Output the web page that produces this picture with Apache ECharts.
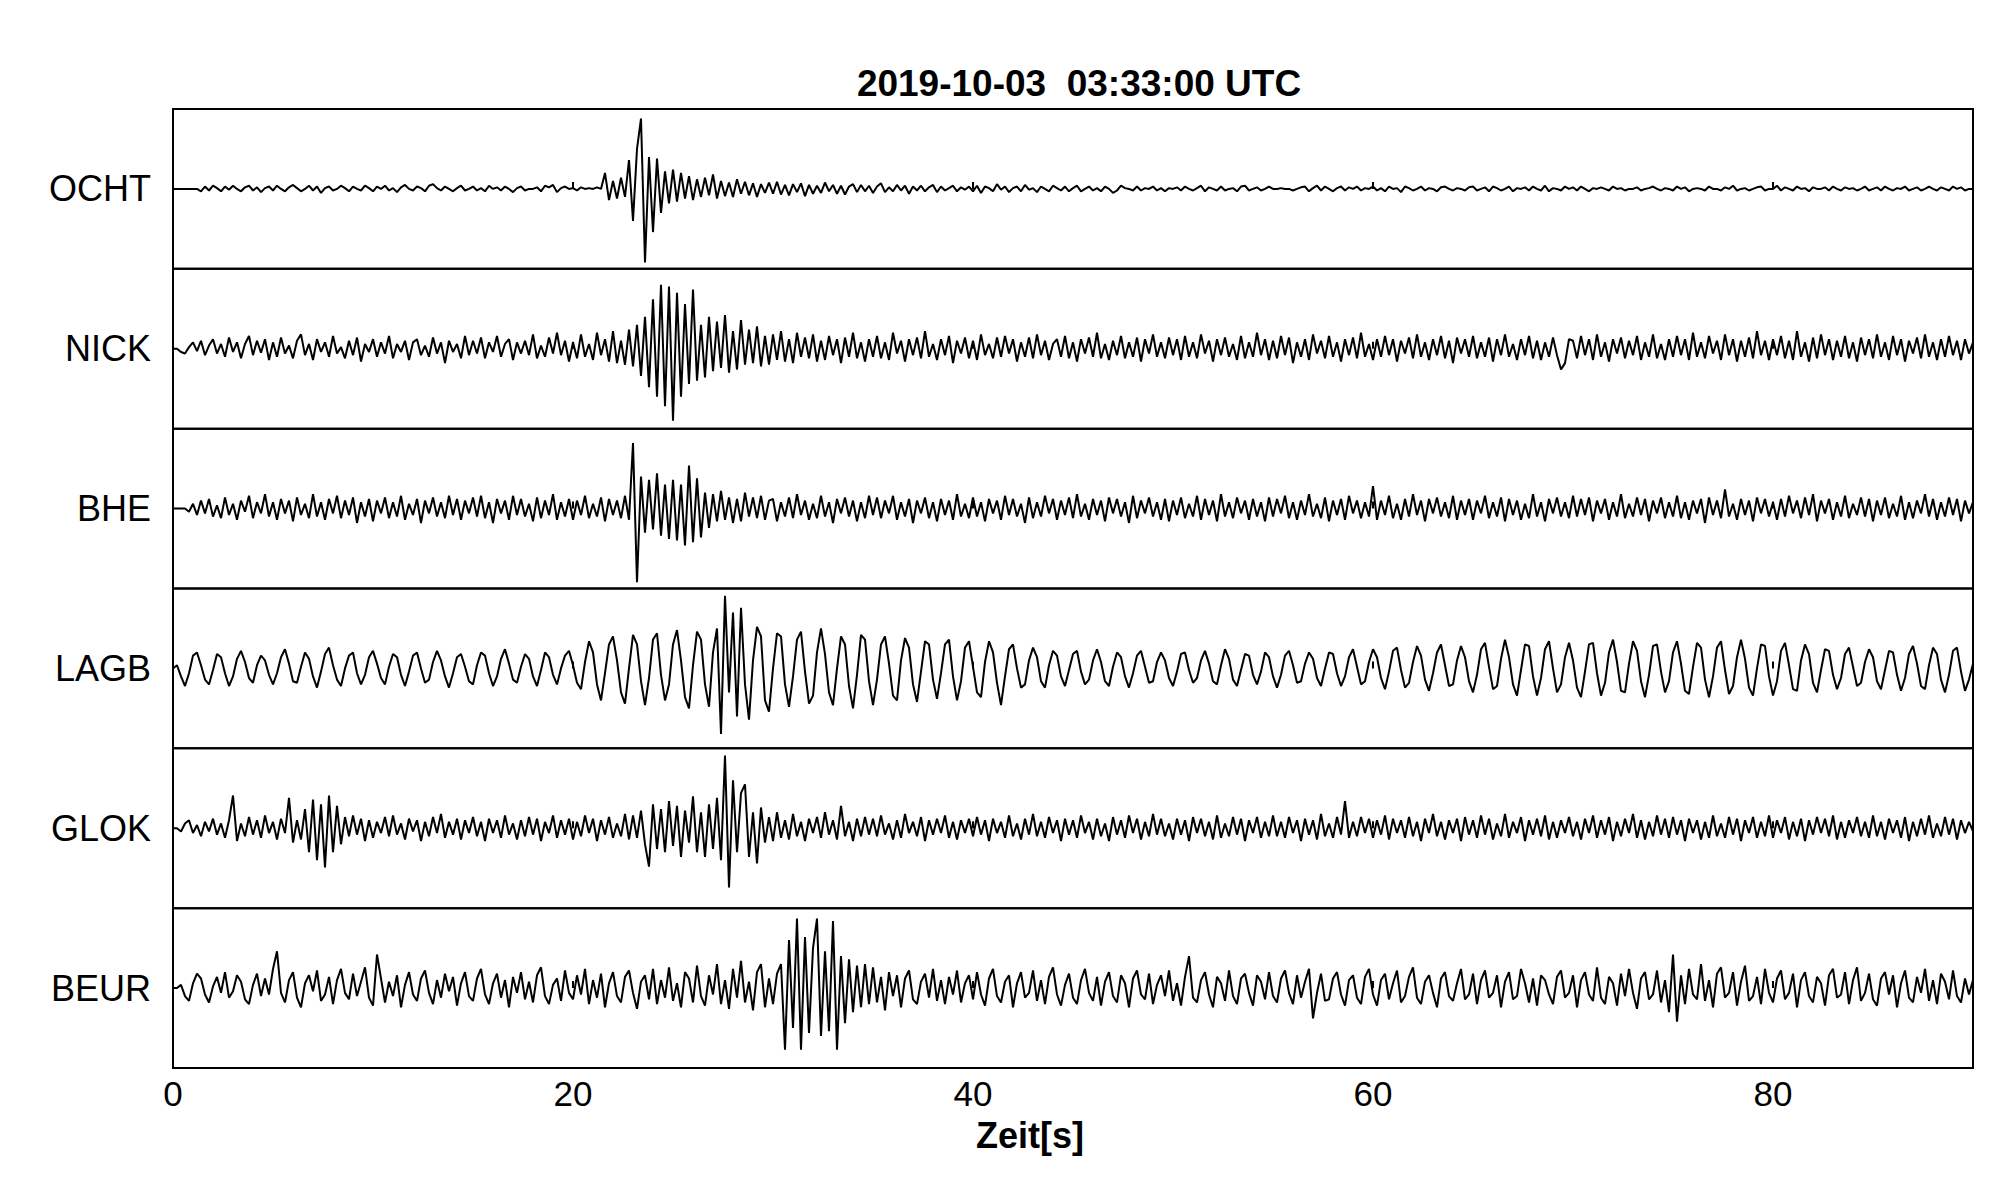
<!DOCTYPE html>
<html><head><meta charset="utf-8">
<script src="https://cdn.jsdelivr.net/npm/echarts@6/dist/echarts.min.js"></script>
<style>html,body{margin:0;padding:0;background:#fff}#c{width:2005px;height:1202px}</style>
</head><body><div id="c"></div>
<script>
const stations = ['OCHT','NICK','BHE','LAGB','GLOK','BEUR'];
const titleText = '2019-10-03  03:33:00 UTC';
const xLabel = 'Zeit[s]';
const xTicks = [0,20,40,60,80];
const xMax = 90;
const dt = 0.2; // seconds between read-off samples

const OCHT = [
0,0,0,0,0,0,0,-3,3,-2,4,1,-3,3,-1,4,0,-3,2,4,-2,2,-4,1,3,
-2,4,0,-3,2,5,1,-3,0,4,-2,3,-5,1,3,-2,0,4,1,-3,3,0,-2,4,1,
-3,3,0,4,-2,1,-4,2,5,0,-2,3,1,-3,4,6,1,-2,3,0,-3,1,4,-2,0,
3,-2,1,-3,4,0,2,-2,3,0,-4,1,3,-2,0,0,2,-3,4,2,5,-4,1,3,0,
1,-2,2,0,1,0,2,0,20,-14,10,-12,14,-10,36,-40,50,88,-92,40,-54,38,-30,22,-18,
24,-16,20,-12,16,-14,12,-10,14,-8,18,-12,10,-9,8,-10,12,-6,9,-8,7,-10,6,-5,8,
-6,9,-7,5,-8,6,-4,7,-9,5,-6,4,-5,8,-3,5,-6,4,-7,3,6,-4,5,-3,4,
-5,3,7,-4,2,-3,5,-2,4,-6,3,-2,4,-3,2,5,-4,3,-2,1,4,-3,2,-1,3,
-3,4,-5,3,1,-3,6,-1,3,-4,1,3,-3,5,-1,1,-4,3,0,-3,4,1,-2,3,-3,
1,4,-3,0,3,-2,1,-3,3,0,-5,-2,4,1,0,-2,3,-2,1,0,3,-2,1,-3,1,
0,2,-2,3,0,-2,1,4,-3,2,0,-2,3,-2,0,1,-3,3,4,-2,0,2,-2,0,3,
0,0,1,0,0,-2,0,2,3,-3,1,4,-2,3,0,-3,1,3,-2,2,0,3,-2,1,0,
3,-2,1,-3,3,0,1,-4,3,1,-2,0,3,-2,1,0,-3,2,3,0,-2,1,0,-2,2,
3,-2,0,2,-3,3,1,-2,0,3,-3,1,0,2,-2,3,0,-2,4,-3,1,0,-2,3,0,
2,-2,3,0,-3,1,0,2,0,-2,3,0,1,-2,0,0,2,-2,0,1,3,0,-2,1,0,
-2,3,0,2,-3,0,1,0,-2,3,0,0,-2,2,0,4,-2,0,1,-2,0,2,3,-2,0,
0,4,-2,2,0,-2,3,0,1,-3,2,0,0,2,-2,3,0,-2,2,0,1,-2,0,3,-2,
0,2,-2,3,0,-2,1,0,3,-2,0,2,-2,0,3,0,-2,2,0,-2,3,0,2,-2,0,
0];

const NICK = [
0,0,-4,-6,2,8,-3,10,-8,4,12,-6,6,-10,14,-4,8,-12,6,16,-8,10,-5,12,-14,
8,-10,14,-6,4,-12,10,18,-8,6,-14,12,-4,8,-10,16,-6,2,-12,10,-8,14,-16,6,-4,
12,-10,8,-6,16,-12,6,-4,10,-14,8,12,-8,4,-10,14,-6,8,-18,10,-4,6,-12,16,-8,
10,-6,14,-12,8,-4,16,-10,6,12,-14,8,-6,10,-8,18,-12,4,-10,14,-6,20,-8,10,-16,
8,-12,18,-10,6,-14,20,-8,12,-16,22,-18,10,-20,24,-22,30,-34,40,-48,62,-60,80,-72,78,
-90,70,-60,56,-44,74,-40,30,-36,40,-28,34,-24,42,-30,22,-26,36,-20,24,-18,28,-22,16,-20,
18,-14,22,-16,12,-18,20,-10,14,-12,18,-16,10,-14,16,-8,12,-18,14,-10,20,-12,8,-16,12,
-10,16,-12,8,-14,20,-6,10,-16,12,-8,14,-12,22,-10,6,-14,12,-8,16,-18,10,-6,14,-12,
10,-14,18,-8,6,-12,14,-10,16,-6,12,-16,8,-10,14,-12,18,-8,10,-14,6,12,-10,16,-12,
8,-16,12,-6,14,-10,20,-12,6,-14,10,-8,16,-12,8,-10,14,-16,12,-6,18,-10,8,-12,14,
-8,12,-14,16,-10,8,-12,18,-6,10,-16,12,-8,14,-10,6,-14,16,-12,8,-10,20,-8,12,-14,
10,-12,16,-8,14,-18,8,-10,12,-14,18,-6,10,-12,16,-10,8,-16,12,-8,14,-12,20,-10,6,
-14,12,-10,16,-8,12,-16,10,-6,14,-12,18,-10,8,-14,12,-8,16,-12,10,-18,14,-6,12,-10,
16,-12,8,-10,14,-16,12,-8,18,-10,6,-14,12,-8,16,-12,10,-14,8,-10,14,-8,-26,-18,12,
10,-12,16,-8,12,-14,18,-10,8,-16,12,-6,14,-12,10,-8,16,-14,8,-10,18,-12,6,-14,12,
-10,16,-8,12,-14,20,-10,8,-12,16,-6,10,-14,18,-8,12,-16,10,-10,14,-12,22,-8,10,-14,
12,-8,16,-12,10,-14,22,-10,8,-16,14,-12,18,-8,12,-14,10,-10,16,-12,8,-16,14,-8,12,
-12,18,-10,8,-14,16,-8,12,-16,10,-6,14,-12,18,-10,8,-14,12,-10,16,-8,10,-14,12,-6,
8];

const BHE = [
0,0,0,0,-4,6,-8,10,-6,12,-10,4,-12,14,-8,6,-14,10,-4,16,-12,8,-6,18,-10,
8,-14,12,-6,10,-16,14,-8,6,-12,18,-10,8,-14,12,-6,16,-12,10,-8,14,-18,8,-10,12,
-16,10,-6,14,-12,8,-10,16,-14,6,-8,12,-18,10,-6,14,-10,8,-12,16,-8,12,-14,10,-6,
14,-10,16,-12,8,-18,12,-6,10,-14,16,-8,12,-10,6,-16,14,-12,10,-8,18,-14,8,-10,12,
-14,10,-8,16,-12,6,-10,14,-16,12,-8,10,-12,16,-14,82,-92,40,-30,36,-26,44,-34,30,-38,
36,-40,30,-46,54,-42,38,-36,20,-24,18,-16,22,-14,14,-18,12,-16,20,-10,14,-12,16,-14,10,
12,-16,8,-10,14,-12,18,-8,10,-14,6,-12,16,-10,8,-18,12,-6,14,-10,10,-16,8,-12,16,
-8,14,-12,10,-6,16,-14,8,-10,12,-18,10,-6,14,-12,8,-16,12,-8,10,-14,18,-10,6,-12,
14,-10,8,-16,12,-6,10,-14,16,-8,12,-10,6,-18,14,-12,8,-10,16,-6,12,-14,10,-8,14,
-12,18,-10,6,-14,12,-8,10,-16,14,-6,12,-10,8,-18,16,-12,10,-6,14,-10,8,-14,12,-16,
10,-8,14,-12,6,-10,16,-14,12,-8,10,-16,18,-10,8,-12,14,-6,10,-14,12,-10,8,-16,14,
-10,12,-6,16,-12,8,-14,10,-8,18,-10,6,-12,14,-16,10,-8,12,-14,16,-6,10,-12,8,-10,
28,-14,10,-8,16,-12,6,-14,12,-10,18,-8,10,-16,12,-6,14,-10,8,-12,16,-14,10,-8,12,
-14,10,-6,16,-12,8,-10,14,-16,12,-8,10,-14,6,-12,18,-10,8,-16,12,-6,14,-10,8,-12,
16,-10,12,-8,14,-16,10,-6,12,-14,8,-10,18,-12,6,-10,14,-8,12,-16,10,-6,14,-12,8,
-10,16,-12,8,-14,10,-6,12,-18,14,-8,10,-12,24,-10,6,-14,12,-8,10,-16,14,-6,12,-10,
8,-14,12,-10,16,-6,10,-12,14,-8,18,-16,10,-6,12,-14,8,-10,16,-12,6,-8,14,-10,12,
-16,10,-8,14,-12,6,-10,16,-14,8,-12,10,-6,18,-10,12,-14,8,-10,14,-8,12,-16,10,-6,
8];

const LAGB = [
0,4,-10,-22,-6,16,20,4,-14,-20,-2,18,14,-6,-22,-10,12,22,8,-12,-18,4,16,10,-8,
-20,-6,14,24,6,-16,-18,2,20,12,-10,-24,-4,18,26,4,-14,-22,0,16,20,-6,-20,-8,14,
22,6,-12,-20,2,18,14,-8,-22,-4,16,20,0,-18,-14,8,22,10,-10,-24,-6,14,18,2,-16,
-20,4,20,16,-6,-22,-10,12,24,6,-14,-18,2,18,12,-10,-22,-2,20,14,-8,-20,0,16,22,
4,-18,-26,8,34,20,-20,-40,-6,30,40,10,-30,-44,0,42,30,-16,-46,-12,36,44,-8,-40,-20,
30,48,10,-36,-50,4,46,36,-20,-48,20,50,-82,91,-30,70,-60,76,-20,-64,10,52,40,-40,-54,
0,44,40,-20,-48,-10,36,46,-4,-44,-34,20,50,18,-30,-46,0,40,30,-22,-50,-8,42,36,-16,
-46,-14,30,40,6,-34,-40,10,38,26,-20,-42,-4,34,30,-14,-38,-6,30,36,-10,-40,-16,26,34,
2,-30,-36,8,34,20,-18,-46,-10,24,30,0,-24,-20,10,26,14,-16,-24,4,22,16,-10,-22,-2,
18,22,-4,-20,-14,10,24,8,-16,-22,2,20,14,-10,-24,-6,16,22,2,-18,-16,8,20,10,-12,
-22,-4,18,20,-2,-18,-12,10,22,6,-16,-20,4,24,12,-14,-22,-2,18,16,-8,-20,-4,20,14,
-10,-24,-8,16,22,4,-18,-16,6,20,12,-12,-22,0,20,18,-6,-22,-10,14,24,2,-20,-16,8,
24,14,-12,-26,-4,22,26,-2,-24,-18,8,28,16,-14,-28,-6,20,30,4,-22,-20,10,28,14,-16,
-30,-8,24,32,2,-26,-22,12,36,14,-20,-34,-2,30,28,-10,-34,-12,24,34,0,-30,-20,14,32,
10,-24,-36,-4,30,32,-6,-34,-18,20,36,8,-28,-30,6,34,22,-16,-36,-8,28,30,-4,-30,-16,
20,34,6,-28,-32,2,32,26,-14,-36,-10,26,34,-2,-32,-22,14,36,12,-24,-34,0,30,28,-10,
-34,-16,22,32,4,-26,-28,10,30,18,-18,-30,-2,24,22,-8,-26,-12,18,26,2,-22,-18,8,24,
14,-16,-26,-2,22,20,-8,-28,-12,18,28,6,-22,-26,4,26,18,-14,-30,-8,22,26,-4,-28,-14,
6];

const GLOK = [
0,0,-4,6,10,-6,4,-10,8,-4,12,-8,6,-12,10,41,-16,6,-10,14,-8,10,-12,16,-6,
8,-14,12,-6,38,-18,10,-14,24,-30,36,-40,30,-49,41,-30,28,-20,14,-10,16,-8,12,-16,10,
-12,8,-6,14,-10,16,-8,6,-14,12,-4,10,-16,8,-10,14,-6,18,-12,8,-8,12,-14,10,-6,
14,-10,8,-16,12,-6,10,-12,16,-8,6,-14,10,-10,14,-8,12,-16,8,-6,16,-12,10,-8,12,
-14,8,-10,16,-6,12,-16,10,-8,14,-12,6,-10,18,-14,16,-12,22,-20,-48,30,-26,24,-30,34,
-22,28,-36,22,-18,40,-30,20,-36,30,-26,38,-40,91,-74,60,-30,44,55,-36,20,-44,26,-18,14,
-16,20,-12,10,-14,18,-10,8,-16,12,-6,14,-12,20,-8,10,-14,28,-10,8,-16,12,-10,14,-8,
12,-10,16,-8,6,-14,10,-12,18,-6,8,-10,14,-16,10,-8,12,-6,16,-12,8,-14,10,-6,12,
-10,14,-8,10,-16,12,-6,8,-12,16,-10,6,-14,12,-8,18,-10,8,-12,14,-6,10,-16,12,-8,
10,-12,16,-6,8,-14,12,-10,6,-16,14,-8,10,-12,16,-6,12,-14,8,-10,18,-8,12,-10,6,
-14,12,-8,10,-16,14,-6,12,-10,8,-14,16,-12,6,-10,14,-8,12,-16,10,-6,14,-12,8,-10,
16,-10,8,-12,14,-6,10,-16,12,-8,10,-14,18,-10,6,-12,14,-8,34,-12,8,-10,14,-6,12,
-12,10,-8,16,-14,12,-6,10,-12,14,-10,8,-16,12,-6,18,-10,8,-14,10,-6,12,-16,14,-8,
10,-12,16,-8,12,-14,6,-10,18,-12,8,-6,14,-16,10,-8,12,-10,16,-14,8,-12,10,-6,14,
-10,8,-14,12,-6,16,-12,10,-8,14,-16,8,-10,12,-6,18,-12,10,-14,8,-10,16,-8,12,-12,
14,-8,10,-16,12,-6,10,-14,8,-12,16,-10,6,-12,14,-8,12,-16,10,-6,14,-12,8,-10,16,
-12,10,-6,14,-14,8,-10,12,-16,10,-8,14,-6,12,-10,16,-14,8,-12,10,-6,14,-10,8,-12,
16,-10,8,-14,12,-6,10,-12,14,-16,8,-10,12,-8,16,-12,6,-10,14,-8,12,-14,10,-6,8,
-4];

const BEUR = [
0,0,4,-10,-16,6,18,12,-8,-18,2,14,-6,20,-12,-4,16,8,-14,-20,4,18,-10,12,-8,
24,46,-6,-18,10,20,-12,-24,6,16,-4,22,-16,-8,14,-20,10,24,-6,-14,18,-10,8,26,-12,
-22,42,12,-18,8,-10,16,-24,4,20,-8,-16,12,22,-6,-20,10,-12,18,-4,14,-22,6,20,-10,
-16,12,24,-8,-20,6,18,-12,10,-24,14,-6,20,-14,8,-18,16,26,-10,-20,4,12,-16,22,-6,
-14,16,-8,24,-20,10,-12,18,-24,6,20,-10,-18,14,22,-6,-26,8,16,-14,24,-20,10,-12,26,
-16,6,-24,20,12,-18,28,-10,-22,16,-8,30,-20,10,-26,24,-12,34,-18,8,-28,20,30,-24,12,
-20,18,30,-77,60,-50,87,-77,64,-56,50,87,-60,46,-54,84,-77,40,-44,36,-30,28,-24,30,-20,
26,-18,14,-28,20,-10,16,-24,12,22,-14,-20,8,18,-12,24,-16,10,-20,14,-8,22,-18,6,16,
-14,20,-8,-22,12,24,-10,-18,8,16,-24,6,20,-12,-6,22,-16,10,-20,14,26,-8,-22,4,18,
-12,-20,10,24,-6,-16,14,-22,8,20,-10,-18,16,6,-24,12,22,-8,-14,18,-20,4,16,-10,22,
-16,6,-22,14,40,-12,-18,10,20,-8,-24,14,6,-16,22,-10,-20,12,18,-6,-22,16,8,-14,20,
-10,-18,12,22,-6,-20,16,-12,8,24,-38,-6,18,-16,-14,12,20,-8,-22,10,16,-12,-20,14,24,
-8,-22,10,18,-14,6,22,-18,-10,14,26,-12,-20,8,16,-6,-24,12,20,-10,-16,6,24,-14,-8,
18,-20,10,22,-12,-6,16,-24,8,20,-14,-10,24,6,-18,12,-22,16,10,-8,-20,14,22,-12,-6,
16,-24,10,20,-8,-16,26,-12,-20,14,6,-22,18,-10,24,-6,-26,12,20,-14,-8,22,-18,10,-30,
42,-42,16,-20,24,-8,-14,30,-16,10,-24,18,26,-12,-6,20,-22,8,28,-16,-10,14,-20,24,-6,
-18,12,22,-14,-6,18,-24,10,20,-10,-18,14,6,-22,16,24,-12,-8,20,-20,10,26,-16,-6,18,
-14,-22,12,20,-8,16,-24,6,22,-12,-18,14,-6,24,-16,10,-20,18,8,-14,22,-10,-18,12,-8,
10];

const traces = [OCHT, NICK, BHE, LAGB, GLOK, BEUR];

const chart = echarts.init(document.getElementById('c'), null, {renderer: 'svg'});
const L = 173, W = 1800, T = 109, PH = 959 / 6;
const FONT = '"Liberation Sans", Arial, Helvetica, sans-serif';
const grids = [], xAxes = [], yAxes = [], series = [], graphics = [];

stations.forEach((name, i) => {
  grids.push({left: L, top: T + i * PH, width: W, height: PH, show: true,
    borderColor: '#000', borderWidth: 2, backgroundColor: 'transparent'});
  xAxes.push({type: 'value', gridIndex: i, min: xTicks[0], max: xMax, interval: xTicks[1] - xTicks[0],
    axisLine: {show: false},
    axisTick: {show: true, inside: true, length: 7, lineStyle: {color: '#000', width: 2}},
    axisLabel: {show: i === stations.length - 1, showMaxLabel: false, color: '#000',
      fontSize: 35, fontFamily: FONT, margin: 8},
    splitLine: {show: false}});
  yAxes.push({type: 'value', gridIndex: i, min: -100, max: 100, show: false});
  series.push({type: 'line', xAxisIndex: i, yAxisIndex: i,
    data: traces[i].map((v, k) => [Math.round(k * dt * 10) / 10, v]),
    showSymbol: false, symbol: 'none', silent: true, animation: false,
    lineStyle: {color: '#000', width: 2}});
  graphics.push({type: 'text', x: 151, y: T + i * PH + PH / 2,
    style: {text: name, fill: '#000', font: '36px ' + FONT,
      align: 'right', verticalAlign: 'middle', textAlign: 'right', textVerticalAlign: 'middle'}});
});

graphics.push({type: 'text', x: 1079, y: 83,
  style: {text: titleText, fill: '#000', font: 'bold 37px ' + FONT,
    align: 'center', verticalAlign: 'middle', textAlign: 'center', textVerticalAlign: 'middle'}});
graphics.push({type: 'text', x: 1030, y: 1135,
  style: {text: xLabel, fill: '#000', font: 'bold 36px ' + FONT,
    align: 'center', verticalAlign: 'middle', textAlign: 'center', textVerticalAlign: 'middle'}});

chart.setOption({
  animation: false,
  backgroundColor: '#fff',
  grid: grids, xAxis: xAxes, yAxis: yAxes, series: series, graphic: graphics
});
</script></body></html>
